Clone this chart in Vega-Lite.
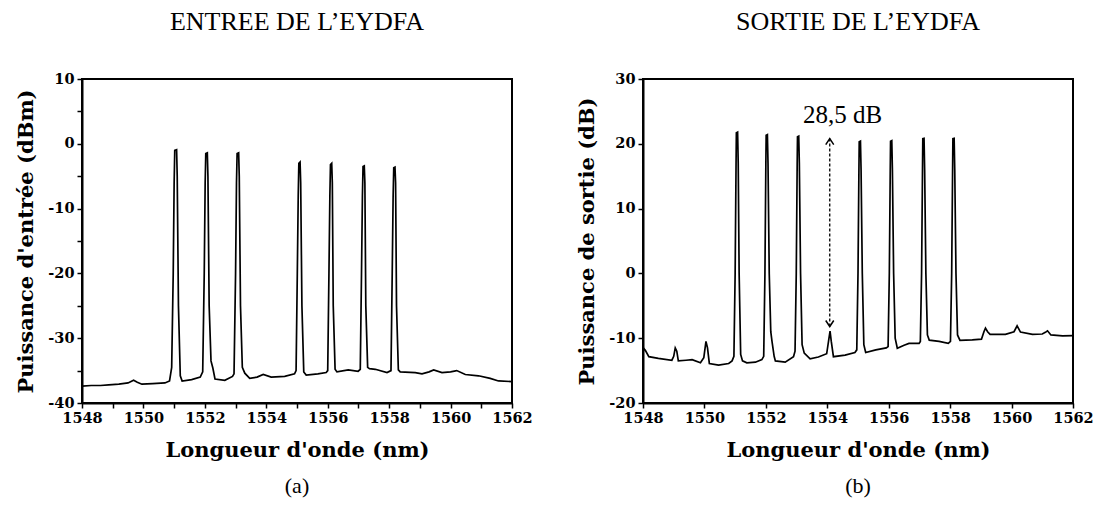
{
  "$schema": "https://vega.github.io/schema/vega-lite/v6.json",
  "background": "white",
  "padding": {"left": 14, "top": 8, "right": 0, "bottom": 5},
  "spacing": 41,
  "config": {
    "font": "DejaVu Serif",
    "view": {"stroke": "black", "strokeWidth": 2},
    "axis": {
      "grid": false,
      "domainColor": "black",
      "domainWidth": 2,
      "tickColor": "black",
      "tickWidth": 1.5,
      "tickSize": 5,
      "labelFont": "DejaVu Serif",
      "labelFontWeight": "bold",
      "labelFontSize": 14.5,
      "labelColor": "black",
      "labelFlush": false,
      "labelOverlap": false,
      "titleFont": "DejaVu Serif",
      "titleFontWeight": "bold",
      "titleFontSize": 21,
      "titleColor": "black"
    },
    "title": {"font": "Liberation Serif", "fontSize": 26, "fontWeight": "normal", "color": "black", "anchor": "middle"}
  },
  "datasets": {
    "entree": [
      {"lambda": 1548.0, "p": -37.4}, {"lambda": 1548.3, "p": -37.3}, {"lambda": 1548.6, "p": -37.3},
      {"lambda": 1548.87, "p": -37.2}, {"lambda": 1549.2, "p": -37.1}, {"lambda": 1549.5, "p": -36.9},
      {"lambda": 1549.68, "p": -36.5}, {"lambda": 1549.8, "p": -36.8}, {"lambda": 1549.95, "p": -37.1},
      {"lambda": 1550.3, "p": -37.0}, {"lambda": 1550.7, "p": -36.9}, {"lambda": 1550.85, "p": -36.6},
      {"lambda": 1550.92, "p": -34.5}, {"lambda": 1550.97, "p": -20}, {"lambda": 1551.0, "p": -6},
      {"lambda": 1551.02, "p": -1.0}, {"lambda": 1551.08, "p": -0.9}, {"lambda": 1551.1, "p": -5},
      {"lambda": 1551.14, "p": -25}, {"lambda": 1551.2, "p": -35.8}, {"lambda": 1551.26, "p": -36.6},
      {"lambda": 1551.57, "p": -36.4}, {"lambda": 1551.85, "p": -36.0},
      {"lambda": 1551.93, "p": -35.2}, {"lambda": 1551.98, "p": -20}, {"lambda": 1552.01, "p": -6},
      {"lambda": 1552.03, "p": -1.5}, {"lambda": 1552.08, "p": -1.4}, {"lambda": 1552.1, "p": -5},
      {"lambda": 1552.14, "p": -25}, {"lambda": 1552.2, "p": -33.5}, {"lambda": 1552.26, "p": -34.6},
      {"lambda": 1552.33, "p": -36.3}, {"lambda": 1552.65, "p": -36.5}, {"lambda": 1552.9, "p": -35.9},
      {"lambda": 1552.95, "p": -35.5}, {"lambda": 1553.0, "p": -20}, {"lambda": 1553.03, "p": -6},
      {"lambda": 1553.05, "p": -1.5}, {"lambda": 1553.1, "p": -1.4}, {"lambda": 1553.12, "p": -5},
      {"lambda": 1553.16, "p": -25}, {"lambda": 1553.22, "p": -34.5}, {"lambda": 1553.3, "p": -35.4},
      {"lambda": 1553.46, "p": -36.2}, {"lambda": 1553.7, "p": -36.0}, {"lambda": 1553.9, "p": -35.6},
      {"lambda": 1554.16, "p": -36.0}, {"lambda": 1554.6, "p": -35.9}, {"lambda": 1554.92, "p": -35.5},
      {"lambda": 1554.97, "p": -35.0}, {"lambda": 1555.01, "p": -20}, {"lambda": 1555.04, "p": -8},
      {"lambda": 1555.06, "p": -3.0}, {"lambda": 1555.1, "p": -2.8}, {"lambda": 1555.12, "p": -6},
      {"lambda": 1555.16, "p": -25}, {"lambda": 1555.22, "p": -35.2}, {"lambda": 1555.3, "p": -35.7},
      {"lambda": 1555.68, "p": -35.5}, {"lambda": 1555.95, "p": -35.3},
      {"lambda": 1556.0, "p": -35.0}, {"lambda": 1556.04, "p": -20}, {"lambda": 1556.07, "p": -8},
      {"lambda": 1556.09, "p": -3.2}, {"lambda": 1556.13, "p": -3.0}, {"lambda": 1556.15, "p": -6},
      {"lambda": 1556.18, "p": -25}, {"lambda": 1556.24, "p": -34.8}, {"lambda": 1556.3, "p": -35.2},
      {"lambda": 1556.67, "p": -34.9}, {"lambda": 1556.99, "p": -35.1},
      {"lambda": 1557.06, "p": -34.8}, {"lambda": 1557.1, "p": -20}, {"lambda": 1557.13, "p": -8},
      {"lambda": 1557.15, "p": -3.5}, {"lambda": 1557.19, "p": -3.4}, {"lambda": 1557.21, "p": -6},
      {"lambda": 1557.24, "p": -25}, {"lambda": 1557.3, "p": -34.5}, {"lambda": 1557.36, "p": -34.7},
      {"lambda": 1557.55, "p": -34.8}, {"lambda": 1557.93, "p": -35.3},
      {"lambda": 1558.06, "p": -35.0}, {"lambda": 1558.1, "p": -20}, {"lambda": 1558.13, "p": -8},
      {"lambda": 1558.15, "p": -3.7}, {"lambda": 1558.19, "p": -3.6}, {"lambda": 1558.21, "p": -6},
      {"lambda": 1558.24, "p": -25}, {"lambda": 1558.3, "p": -34.9}, {"lambda": 1558.36, "p": -35.2},
      {"lambda": 1558.85, "p": -35.3}, {"lambda": 1559.07, "p": -35.5}, {"lambda": 1559.3, "p": -35.2},
      {"lambda": 1559.45, "p": -34.9}, {"lambda": 1559.72, "p": -35.3}, {"lambda": 1560.0, "p": -35.2},
      {"lambda": 1560.2, "p": -35.0}, {"lambda": 1560.48, "p": -35.6}, {"lambda": 1560.91, "p": -35.8},
      {"lambda": 1561.29, "p": -36.2}, {"lambda": 1561.56, "p": -36.6}, {"lambda": 1562.0, "p": -36.7}
    ],
    "sortie": [
      {"lambda": 1548.0, "p": -12.2}, {"lambda": 1548.03, "p": -11.6}, {"lambda": 1548.08, "p": -11.9},
      {"lambda": 1548.19, "p": -12.85}, {"lambda": 1548.5, "p": -13.1}, {"lambda": 1548.94, "p": -13.4},
      {"lambda": 1549.0, "p": -12.8}, {"lambda": 1549.05, "p": -11.5}, {"lambda": 1549.1, "p": -12.0},
      {"lambda": 1549.15, "p": -13.5}, {"lambda": 1549.4, "p": -13.4}, {"lambda": 1549.6, "p": -13.3},
      {"lambda": 1549.87, "p": -13.8}, {"lambda": 1549.98, "p": -13.0}, {"lambda": 1550.05, "p": -10.5},
      {"lambda": 1550.1, "p": -11.5}, {"lambda": 1550.16, "p": -13.9}, {"lambda": 1550.46, "p": -14.15},
      {"lambda": 1550.79, "p": -13.9}, {"lambda": 1550.9, "p": -13.5},
      {"lambda": 1550.96, "p": -12.8}, {"lambda": 1551.0, "p": 0}, {"lambda": 1551.03, "p": 17},
      {"lambda": 1551.04, "p": 21.7}, {"lambda": 1551.08, "p": 21.8}, {"lambda": 1551.1, "p": 17},
      {"lambda": 1551.13, "p": 0}, {"lambda": 1551.18, "p": -12.5}, {"lambda": 1551.24, "p": -13.5},
      {"lambda": 1551.38, "p": -13.8}, {"lambda": 1551.66, "p": -13.7}, {"lambda": 1551.87, "p": -13.3},
      {"lambda": 1551.93, "p": -12.8}, {"lambda": 1551.97, "p": 0}, {"lambda": 1552.0, "p": 17},
      {"lambda": 1552.01, "p": 21.3}, {"lambda": 1552.05, "p": 21.4}, {"lambda": 1552.07, "p": 17},
      {"lambda": 1552.11, "p": 0}, {"lambda": 1552.16, "p": -9}, {"lambda": 1552.2, "p": -10.5},
      {"lambda": 1552.27, "p": -12.8}, {"lambda": 1552.31, "p": -13.5}, {"lambda": 1552.63, "p": -13.7},
      {"lambda": 1552.9, "p": -12.85},
      {"lambda": 1552.95, "p": -12.0}, {"lambda": 1552.99, "p": 0}, {"lambda": 1553.02, "p": 17},
      {"lambda": 1553.03, "p": 21.1}, {"lambda": 1553.07, "p": 21.2}, {"lambda": 1553.09, "p": 17},
      {"lambda": 1553.13, "p": 0}, {"lambda": 1553.18, "p": -11}, {"lambda": 1553.25, "p": -12.3},
      {"lambda": 1553.44, "p": -13.2}, {"lambda": 1553.71, "p": -12.9}, {"lambda": 1553.98, "p": -12.4},
      {"lambda": 1554.04, "p": -10.5}, {"lambda": 1554.09, "p": -8.9}, {"lambda": 1554.13, "p": -10.5},
      {"lambda": 1554.2, "p": -12.85}, {"lambda": 1554.58, "p": -12.6}, {"lambda": 1554.9, "p": -12.2},
      {"lambda": 1554.96, "p": -11.8}, {"lambda": 1555.0, "p": 0}, {"lambda": 1555.03, "p": 16},
      {"lambda": 1555.04, "p": 20.3}, {"lambda": 1555.08, "p": 20.4}, {"lambda": 1555.1, "p": 16},
      {"lambda": 1555.14, "p": 0}, {"lambda": 1555.19, "p": -11}, {"lambda": 1555.25, "p": -12.2},
      {"lambda": 1555.58, "p": -11.8}, {"lambda": 1555.92, "p": -11.5},
      {"lambda": 1555.98, "p": -11.3}, {"lambda": 1556.02, "p": 0}, {"lambda": 1556.05, "p": 16},
      {"lambda": 1556.06, "p": 20.4}, {"lambda": 1556.1, "p": 20.5}, {"lambda": 1556.12, "p": 16},
      {"lambda": 1556.16, "p": 0}, {"lambda": 1556.21, "p": -10}, {"lambda": 1556.28, "p": -11.55},
      {"lambda": 1556.5, "p": -11.1}, {"lambda": 1556.66, "p": -10.8}, {"lambda": 1556.99, "p": -10.8},
      {"lambda": 1557.03, "p": -10.5}, {"lambda": 1557.07, "p": 0}, {"lambda": 1557.1, "p": 16},
      {"lambda": 1557.11, "p": 20.8}, {"lambda": 1557.15, "p": 20.85}, {"lambda": 1557.17, "p": 16},
      {"lambda": 1557.21, "p": 0}, {"lambda": 1557.26, "p": -9.5}, {"lambda": 1557.32, "p": -10.3},
      {"lambda": 1557.64, "p": -10.5}, {"lambda": 1557.94, "p": -10.8},
      {"lambda": 1558.01, "p": -10.5}, {"lambda": 1558.05, "p": 0}, {"lambda": 1558.08, "p": 16},
      {"lambda": 1558.09, "p": 20.8}, {"lambda": 1558.13, "p": 20.85}, {"lambda": 1558.15, "p": 16},
      {"lambda": 1558.19, "p": 0}, {"lambda": 1558.24, "p": -9.5}, {"lambda": 1558.32, "p": -10.35},
      {"lambda": 1558.72, "p": -10.27}, {"lambda": 1559.02, "p": -10.15}, {"lambda": 1559.1, "p": -9.0},
      {"lambda": 1559.15, "p": -8.45}, {"lambda": 1559.22, "p": -9.0}, {"lambda": 1559.3, "p": -9.4},
      {"lambda": 1559.8, "p": -9.4}, {"lambda": 1560.08, "p": -9.0}, {"lambda": 1560.18, "p": -8.1},
      {"lambda": 1560.29, "p": -9.06}, {"lambda": 1560.68, "p": -9.4}, {"lambda": 1561.0, "p": -9.35},
      {"lambda": 1561.1, "p": -9.1}, {"lambda": 1561.17, "p": -8.86}, {"lambda": 1561.28, "p": -9.5},
      {"lambda": 1561.66, "p": -9.65}, {"lambda": 1562.0, "p": -9.6}
    ],
    "arrow": [{"lambda": 1554.08, "bottom": -8.2, "top": 20.8}],
    "annotation": [{"lambda": 1554.5, "p": 24.5, "label": "28,5 dB"}]
  },
  "hconcat": [
    {
      "title": {"text": "(a)", "orient": "bottom", "offset": 14, "fontSize": 22, "anchor": "middle", "frame": "group", "dx": 215},
      "vconcat": [
        {
          "title": {"text": "ENTREE DE L\u2019EYDFA", "offset": 36, "frame": "group"},
          "width": 430,
          "height": 324,
          "data": {"name": "entree"},
          "mark": {"type": "line", "color": "black", "strokeWidth": 1.7},
          "encoding": {
            "x": {
              "field": "lambda", "type": "quantitative",
              "scale": {"domain": [1548, 1562], "nice": false, "zero": false},
              "axis": {
                "title": "Longueur d'onde (nm)",
                "values": [1548, 1549, 1550, 1551, 1552, 1553, 1554, 1555, 1556, 1557, 1558, 1559, 1560, 1561, 1562],
                "labelExpr": "datum.value % 2 == 0 ? '' + datum.value : ''",
                "labelPadding": 3,
                "titlePadding": 15
              }
            },
            "y": {
              "field": "p", "type": "quantitative",
              "scale": {"domain": [-40, 10], "nice": false, "zero": false},
              "axis": {
                "title": "Puissance d'entrée (dBm)",
                "values": [-40, -35, -30, -25, -20, -15, -10, -5, 0, 5, 10],
                "labelExpr": "datum.value % 10 == 0 ? '' + datum.value : ''",
                "labelPadding": 3,
                "titlePadding": 11
              }
            }
          }
        }
      ]
    },
    {
      "title": {"text": "(b)", "orient": "bottom", "offset": 14, "fontSize": 22, "anchor": "middle", "frame": "group", "dx": 215},
      "vconcat": [
        {
          "title": {"text": "SORTIE DE L\u2019EYDFA", "offset": 36, "frame": "group"},
          "width": 430,
          "height": 324,
          "layer": [
            {
              "data": {"name": "sortie"},
              "mark": {"type": "line", "color": "black", "strokeWidth": 1.7},
              "encoding": {
                "x": {
                  "field": "lambda", "type": "quantitative",
                  "scale": {"domain": [1548, 1562], "nice": false, "zero": false},
                  "axis": {
                    "title": "Longueur d'onde (nm)",
                    "values": [1548, 1549, 1550, 1551, 1552, 1553, 1554, 1555, 1556, 1557, 1558, 1559, 1560, 1561, 1562],
                    "labelExpr": "datum.value % 2 == 0 ? '' + datum.value : ''",
                    "labelPadding": 3,
                    "titlePadding": 15
                  }
                },
                "y": {
                  "field": "p", "type": "quantitative",
                  "scale": {"domain": [-20, 30], "nice": false, "zero": false},
                  "axis": {
                    "title": "Puissance de sortie (dB)",
                    "values": [-20, -15, -10, -5, 0, 5, 10, 15, 20, 25, 30],
                    "labelExpr": "datum.value % 10 == 0 ? '' + datum.value : ''",
                    "labelPadding": 3,
                    "titlePadding": 11
                  }
                }
              }
            },
            {
              "data": {"name": "arrow"},
              "mark": {"type": "rule", "color": "black", "strokeWidth": 1.3, "strokeDash": [3, 2]},
              "encoding": {
                "x": {"field": "lambda", "type": "quantitative"},
                "y": {"field": "bottom", "type": "quantitative"},
                "y2": {"field": "top"}
              }
            },
            {
              "data": {"name": "arrow"},
              "mark": {"type": "point", "shape": "M -1 1.5 L 0 0 L 1 1.5", "filled": false, "color": "black", "strokeWidth": 1.5, "size": 64, "opacity": 1},
              "encoding": {
                "x": {"field": "lambda", "type": "quantitative"},
                "y": {"field": "top", "type": "quantitative"}
              }
            },
            {
              "data": {"name": "arrow"},
              "mark": {"type": "point", "shape": "M -1 -1.5 L 0 0 L 1 -1.5", "filled": false, "color": "black", "strokeWidth": 1.5, "size": 64, "opacity": 1},
              "encoding": {
                "x": {"field": "lambda", "type": "quantitative"},
                "y": {"field": "bottom", "type": "quantitative"}
              }
            },
            {
              "data": {"name": "annotation"},
              "mark": {"type": "text", "font": "Liberation Serif", "fontSize": 25, "color": "black", "baseline": "middle", "align": "center"},
              "encoding": {
                "x": {"field": "lambda", "type": "quantitative"},
                "y": {"field": "p", "type": "quantitative"},
                "text": {"field": "label"}
              }
            }
          ]
        }
      ]
    }
  ]
}
